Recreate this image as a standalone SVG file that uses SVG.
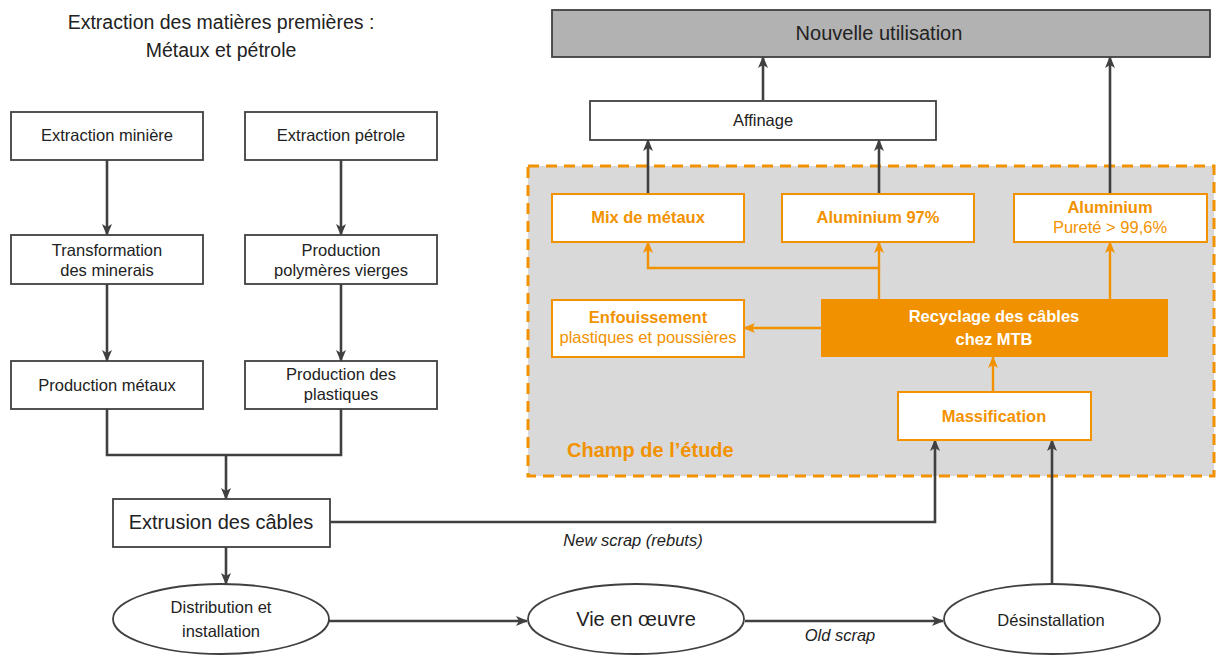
<svg xmlns="http://www.w3.org/2000/svg" width="1216" height="655" viewBox="0 0 1216 655">
<style>
text{font-family:"Liberation Sans",Arial,sans-serif;text-anchor:middle}
.t16{font-size:16.5px;fill:#222}
.t20{font-size:20px;fill:#222}
.box{fill:#fff;stroke:#404040;stroke-width:1.8}
.obox{fill:#fff;stroke:#F39200;stroke-width:2}
.ob{font-size:16.5px;font-weight:bold;fill:#F39200}
.or{font-size:16.5px;fill:#F39200}
.dl{fill:none;stroke:#404040;stroke-width:2.6}
.ol{fill:none;stroke:#F39200;stroke-width:2.4}
.lab{font-size:16.5px;font-style:italic;fill:#222}
</style>
<defs>
<marker id="ad" markerUnits="userSpaceOnUse" markerWidth="12" markerHeight="10" refX="11" refY="5" orient="auto">
<path d="M0,0 L12,5 L0,10 L3,5 z" fill="#404040"/>
</marker>
<marker id="ao" markerUnits="userSpaceOnUse" markerWidth="12" markerHeight="10" refX="11" refY="5" orient="auto">
<path d="M0,0 L12,5 L0,10 L3,5 z" fill="#F39200"/>
</marker>
</defs>

<g id="title">
<text class="t20" x="221" y="29" style="font-size:19.5px">Extraction des matières premières :</text>
<text class="t20" x="221" y="57" style="font-size:19.5px">Métaux et pétrole</text>
</g>

<g id="champ">
<rect x="528" y="166" width="686" height="310" fill="#D9D9D9" stroke="#F39200" stroke-width="3" stroke-dasharray="11 7"/>
<text x="567" y="457" style="font-size:20px;font-weight:bold;fill:#F39200;text-anchor:start">Champ de l’étude</text>
</g>

<g id="connectors">
<path class="dl" d="M107,160 V235" marker-end="url(#ad)"/>
<path class="dl" d="M107,284 V361" marker-end="url(#ad)"/>
<path class="dl" d="M341,160 V235" marker-end="url(#ad)"/>
<path class="dl" d="M341,284 V361" marker-end="url(#ad)"/>
<path class="dl" d="M107,409 V455 H341 V409"/>
<path class="dl" d="M226,455 V499" marker-end="url(#ad)"/>
<path class="dl" d="M226,547 V584" marker-end="url(#ad)"/>
<path class="dl" d="M329,621 H527" marker-end="url(#ad)"/>
<path class="dl" d="M745,621 H943" marker-end="url(#ad)"/>
<path class="dl" d="M330,522 H935 V440" marker-end="url(#ad)"/>
<path class="dl" d="M1052,584 V440" marker-end="url(#ad)"/>
<path class="dl" d="M648,194 V140" marker-end="url(#ad)"/>
<path class="dl" d="M879,194 V140" marker-end="url(#ad)"/>
<path class="dl" d="M763,100 V57" marker-end="url(#ad)"/>
<path class="dl" d="M1110,194 V57" marker-end="url(#ad)"/>
<path class="ol" d="M879,299 V268 H648 V242" marker-end="url(#ao)"/>
<path class="ol" d="M879,268 V242" marker-end="url(#ao)"/>
<path class="ol" d="M1110,299 V242" marker-end="url(#ao)"/>
<path class="ol" d="M821,328 H744" marker-end="url(#ao)"/>
<path class="ol" d="M993,392 V357" marker-end="url(#ao)"/>
<text class="lab" x="633" y="546">New scrap (rebuts)</text>
<text class="lab" x="840" y="641">Old scrap</text>
</g>

<g id="extraction-miniere"><rect class="box" x="11" y="112" width="192" height="48"/><text class="t16" x="107" y="141">Extraction minière</text></g>
<g id="extraction-petrole"><rect class="box" x="245" y="112" width="192" height="48"/><text class="t16" x="341" y="141">Extraction pétrole</text></g>
<g id="transformation"><rect class="box" x="11" y="235" width="192" height="49"/><text class="t16" x="107" y="256">Transformation</text><text class="t16" x="107" y="276">des minerais</text></g>
<g id="polymeres"><rect class="box" x="245" y="235" width="192" height="49"/><text class="t16" x="341" y="256">Production</text><text class="t16" x="341" y="276">polymères vierges</text></g>
<g id="production-metaux"><rect class="box" x="11" y="361" width="192" height="48"/><text class="t16" x="107" y="391">Production métaux</text></g>
<g id="production-plastiques"><rect class="box" x="245" y="361" width="192" height="48"/><text class="t16" x="341" y="380">Production des</text><text class="t16" x="341" y="400">plastiques</text></g>
<g id="extrusion"><rect class="box" x="113" y="499" width="217" height="48"/><text class="t20" x="221" y="529">Extrusion des câbles</text></g>
<g id="distribution"><ellipse class="box" cx="221" cy="619" rx="108" ry="35"/><text class="t16" x="221" y="613">Distribution et</text><text class="t16" x="221" y="637">installation</text></g>
<g id="vie"><ellipse class="box" cx="636" cy="619" rx="108" ry="35"/><text class="t20" x="636" y="626">Vie en œuvre</text></g>
<g id="desinstallation"><ellipse class="box" cx="1052" cy="619" rx="108" ry="35"/><text class="t16" x="1051" y="626" style="font-size:16.5px">Désinstallation</text></g>

<g id="nouvelle"><rect x="552" y="10" width="658" height="47" fill="#B2B2B2" stroke="#404040" stroke-width="1.8"/><text class="t20" x="879" y="40">Nouvelle utilisation</text></g>
<g id="affinage"><rect class="box" x="590" y="101" width="346" height="39"/><text class="t16" x="763" y="126">Affinage</text></g>

<g id="mix"><rect class="obox" x="552" y="194" width="192" height="48"/><text class="ob" x="648" y="223">Mix de métaux</text></g>
<g id="alu97"><rect class="obox" x="782" y="194" width="192" height="48"/><text class="ob" x="878" y="223">Aluminium 97%</text></g>
<g id="alupur"><rect class="obox" x="1014" y="194" width="193" height="48"/><text class="ob" x="1110" y="213">Aluminium</text><text class="or" x="1110" y="233">Pureté &gt; 99,6%</text></g>
<g id="enfouissement"><rect class="obox" x="552" y="300" width="192" height="57"/><text class="ob" x="648" y="323">Enfouissement</text><text class="or" x="648" y="343">plastiques et poussières</text></g>
<g id="recyclage"><rect x="821" y="299" width="347" height="58" fill="#F29100"/><text x="994" y="322" style="font-size:16.5px;font-weight:bold;fill:#fff">Recyclage des câbles</text><text x="994" y="345" style="font-size:16.5px;font-weight:bold;fill:#fff">chez MTB</text></g>
<g id="massification"><rect class="obox" x="898" y="392" width="193" height="48"/><text class="ob" x="994" y="422">Massification</text></g>
</svg>
